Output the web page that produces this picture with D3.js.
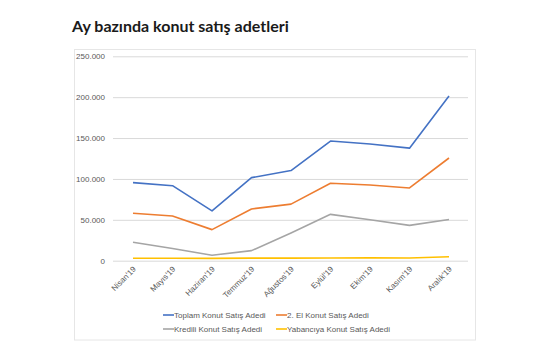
<!DOCTYPE html>
<html><head><meta charset="utf-8">
<script src="https://cdn.jsdelivr.net/npm/d3@7"></script>
<style>body{margin:0;background:#fff}svg{display:block}</style>
</head><body><svg id="c" width="555" height="355"></svg>
<script>
const categories = ["Nisan'19","Mayıs'19","Haziran'19","Temmuz'19","Ağustos'19","Eylül'19","Ekim'19","Kasım'19","Aralık'19"];
const toplam   = [95446, 91732, 60904, 101593, 110249, 146366, 142818, 137644, 201432];
const ikinciEl = [58100, 54600, 38000, 63300, 69200, 94700, 92600, 89000, 125600];
const kredili  = [22500, 15000, 6700, 12300, 34000, 56700, 50000, 43200, 50300];
const yabanci  = [3000, 3000, 2800, 3200, 3100, 3300, 3400, 3300, 4900];
const yTicks = [0, 50000, 100000, 150000, 200000, 250000];
const seriesNames = ["Toplam Konut Satış Adedi","2. El Konut Satış Adedi","Kredili Konut Satış Adedi","Yabancıya Konut Satış Adedi"];
const colors = ["#4472C4","#ED7D31","#A5A5A5","#FFC000"];
const seriesData = [toplam, ikinciEl, kredili, yabanci];

const svg = d3.select("#c");

svg.append("rect").attr("x",74.5).attr("y",49.5).attr("width",401).attr("height",290.5)
  .attr("fill","#fff").attr("stroke","#e6e6e6");

svg.append("text").attr("x",72).attr("y",32).attr("font-family","Lato, 'Open Sans', sans-serif")
  .attr("font-weight","bold").attr("font-size",16).attr("fill","#1a1a1a").text("Ay bazında konut satış adetleri");

const x = d3.scalePoint().domain(categories).range([133, 449]);
const y = d3.scaleLinear().domain([0,250000]).range([260.7, 56.3]);

const fmt = v => v===0 ? "0" : d3.format(",")(v).replace(/,/g,".");

const yAxis = svg.append("g").attr("transform","translate(113,0)")
  .call(d3.axisLeft(y).tickValues(yTicks).tickSize(-355).tickFormat(fmt).tickPadding(8));
yAxis.select(".domain").remove();
yAxis.selectAll(".tick line").attr("stroke","#d9d9d9").attr("stroke-width",1);
yAxis.selectAll(".tick text").attr("fill","#595959").attr("font-size",8).attr("font-family","'Liberation Sans', Arial, sans-serif");

const xAxis = svg.append("g").attr("transform","translate(0,260.7)")
  .call(d3.axisBottom(x).tickSize(0).tickPadding(0));
xAxis.select(".domain").remove();
xAxis.selectAll(".tick text").attr("fill","#595959").attr("font-size",8)
  .attr("font-family","'Liberation Sans', Arial, sans-serif")
  .attr("text-anchor","end").attr("dy",0)
  .attr("transform","translate(3,9) rotate(-45)");

const line = d3.line().x((d,i)=>x(categories[i])).y(d=>y(d));
seriesData.slice().reverse().forEach((s,ri)=>{
  const i = seriesData.length-1-ri;
  svg.append("path").datum(s).attr("d",line).attr("fill","none")
    .attr("stroke",colors[i]).attr("stroke-width",1.6).attr("stroke-linejoin","round");
});

const legPos = [[163,315],[276,315],[163,329],[276,329]];
seriesNames.forEach((n,i)=>{
  const [lx,ly]=legPos[i];
  svg.append("line").attr("x1",lx).attr("x2",lx+11).attr("y1",ly).attr("y2",ly)
    .attr("stroke",colors[i]).attr("stroke-width",1.6);
  svg.append("text").attr("x",lx+11).attr("y",ly+3).attr("font-size",8)
    .attr("font-family","'Liberation Sans', Arial, sans-serif").attr("fill","#595959").text(n);
});
</script></body></html>
